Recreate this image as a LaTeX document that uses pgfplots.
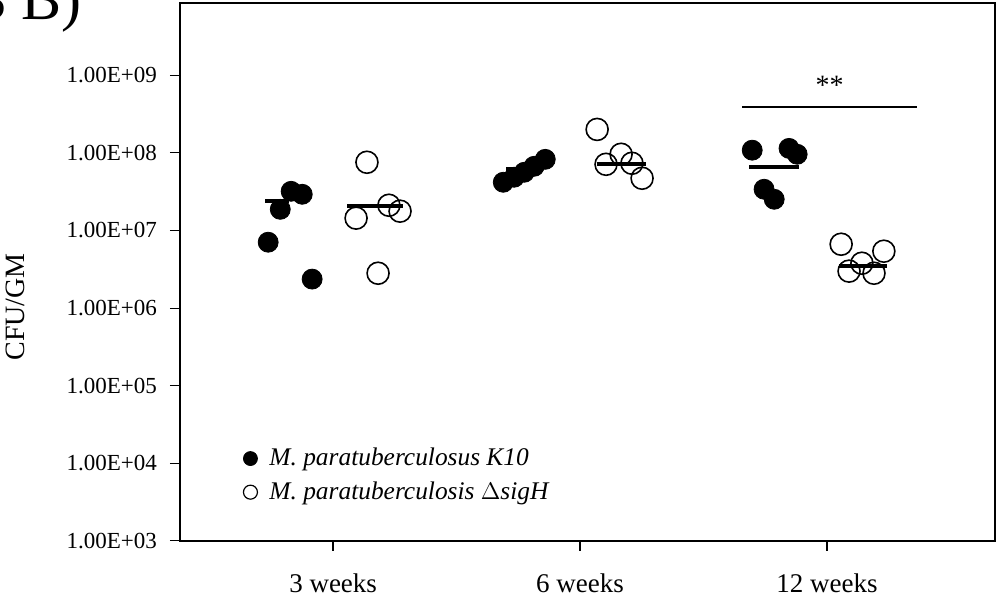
\documentclass[border=0pt]{standalone}
\usepackage{pgfplots}
\pgfplotsset{compat=1.18}
\usepackage{fontspec}
\setmainfont{Liberation Serif}

\begin{document}
\begin{tikzpicture}
  \begin{axis}[
    scale only axis,
    width=407.5pt, height=269pt,
    ymode=log,
    xmin=-0.62, xmax=2.68,
    ymin=1e3, ymax=8.5e9,
    axis line style={black, line width=0.8pt},
    xtick={0,1,2},
    xticklabels={3 weeks, 6 weeks, 12 weeks},
    ytick={1e3,1e4,1e5,1e6,1e7,1e8,1e9},
    yticklabels={\mbox{1.00E+03},\mbox{1.00E+04},\mbox{1.00E+05},\mbox{1.00E+06},\mbox{1.00E+07},\mbox{1.00E+08},\mbox{1.00E+09}},
    minor tick num=0,
    yminorticks=false,
    tick align=outside,
    major tick length=5pt,
    xtick style={black, line width=1.3pt},
    ytick style={black, line width=0.5pt},
    xtick pos=bottom, ytick pos=left,
    xticklabel style={font=\fontsize{13.5}{15}\selectfont, yshift=-8pt},
    yticklabel style={font=\fontsize{11.5}{13}\selectfont, xshift=-3pt},
    ylabel={CFU/GM},
    every axis y label/.style={at={(axis description cs:-0.2025,0.435)}, rotate=90, anchor=center,
      font=\fontsize{14}{15}\selectfont},
    clip=false,
    legend cell align=left,
    legend style={draw=none, fill=none, at={(0.07,0.188)}, anchor=north west,
      font=\fontsize{12.7}{14}\selectfont\itshape, row sep=2.5pt,
      /tikz/every odd column/.append style={column sep=4pt}},
  ]
  % legend entries
  \addlegendimage{only marks, mark=*, mark size=3.5pt, black}
  \addlegendentry{M. paratuberculosus K10}
  \addlegendimage{only marks, mark=o, mark size=3.5pt, black, line width=0.6pt}
  \addlegendentry{M. paratuberculosis $\Delta$sigH}

  % K10 (filled)
  \addplot[only marks, mark=*, mark size=5pt, black, forget plot] coordinates {
    (-0.263,7.05e6) (-0.214,1.87e7) (-0.170,3.19e7) (-0.125,2.92e7) (-0.085,2.36e6)
    (0.689,4.17e7) (0.733,4.84e7) (0.774,5.61e7) (0.814,6.70e7) (0.859,8.24e7)
    (1.697,1.08e8) (1.745,3.39e7) (1.786,2.52e7) (1.846,1.14e8) (1.879,9.57e7)
  };
  % sigH (open)
  \addplot[only marks, mark=o, mark size=5.5pt, black, line width=0.8pt, forget plot] coordinates {
    (0.093,1.44e7) (0.137,7.55e7) (0.182,2.81e6) (0.226,2.11e7) (0.271,1.77e7)
    (1.069,2.0e8) (1.105,7.11e7) (1.166,9.57e7) (1.210,7.33e7) (1.251,4.70e7)
    (2.057,6.64e6) (2.089,2.99e6) (2.141,3.78e6) (2.190,2.81e6) (2.230,5.40e6)
  };

  % mean lines
  \addplot[black, line width=2pt, forget plot] coordinates {(-0.275,2.38e7) (-0.18,2.38e7)};
  \addplot[black, line width=2pt, forget plot] coordinates {(0.057,2.04e7) (0.283,2.04e7)};
  \addplot[black, line width=2pt, forget plot] coordinates {(0.70,6.14e7) (0.79,6.14e7)};
  \addplot[black, line width=2pt, forget plot] coordinates {(1.069,7.11e7) (1.267,7.11e7)};
  \addplot[black, line width=2pt, forget plot] coordinates {(1.685,6.5e7) (1.887,6.5e7)};
  \addplot[black, line width=2pt, forget plot] coordinates {(2.048,3.46e6) (2.242,3.46e6)};

  % significance
  \addplot[black, line width=1pt, forget plot] coordinates {(1.657,3.86e8) (2.364,3.86e8)};
  \node[font=\fontsize{14}{15}\selectfont] at (axis cs:2.01,7.4e8) {**};
  \end{axis}
  \node[font=\fontsize{30}{32}\selectfont, anchor=west] at (-105.5pt,268pt) {3 B)};
  \pgfresetboundingbox
  \path[use as bounding box] (-90pt,-33.5pt) rectangle (408.5pt,270.5pt);
\end{tikzpicture}
\end{document}
